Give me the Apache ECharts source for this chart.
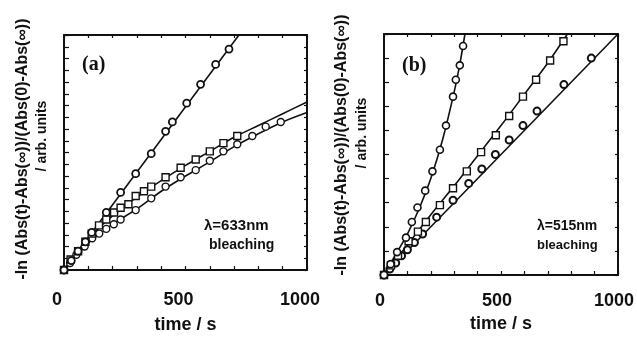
<!DOCTYPE html>
<html>
<head>
<meta charset="utf-8">
<script src="https://cdn.jsdelivr.net/npm/echarts@6/dist/echarts.min.js"></script>
<style>html,body{margin:0;padding:0;background:#fff;}#c{width:637px;height:339px;}</style>
</head>
<body>
<div id="c"></div>
<script>
// ---- Panel (a): lambda = 633 nm ----
var aSteepT = [0, 30, 58, 88, 114, 174, 233, 295, 359, 418, 446, 505, 562, 624, 679];
var aSteepY = [0, 0.8, 1.6, 2.4, 3.2, 4.9, 6.6, 8.2, 9.9, 11.8, 12.6, 14.2, 15.8, 17.5, 18.8];
var aSteepFitT = [0, 720];
var aSteepFitY = [0, 20];
var aSquareT = [0, 27, 58, 88, 114, 144, 174, 206, 233, 265, 295, 329, 359, 418, 480, 542, 600, 656, 713];
var aSquareY = [0, 0.9, 1.6, 2.4, 3.1, 3.8, 4.3, 4.9, 5.3, 5.6, 6.3, 6.7, 7.1, 7.9, 8.7, 9.4, 10.1, 10.8, 11.4];
var aSquareFitT = [0, 50, 100, 150, 200, 300, 400, 500, 600, 700, 800, 900, 1000];
var aSquareFitY = [0, 1.4, 2.7, 3.7, 4.6, 6.2, 7.6, 8.9, 10.1, 11.3, 12.3, 13.3, 14.3];
var aLowT = [0, 25, 51, 85, 116, 145, 174, 205, 233, 295, 359, 418, 480, 542, 600, 656, 713, 775, 830, 892];
var aLowY = [0, 0.6, 1.3, 2.0, 2.7, 3.1, 3.5, 3.9, 4.3, 5.1, 6.1, 7.1, 7.9, 8.5, 9.3, 10.1, 10.7, 11.4, 12.2, 12.6];
var aLowFitT = [0, 50, 100, 150, 200, 300, 400, 500, 600, 700, 800, 900, 1000];
var aLowFitY = [0, 1.2, 2.3, 3.1, 3.9, 5.2, 6.7, 8.0, 9.2, 10.5, 11.6, 12.6, 13.4];

// ---- Panel (b): lambda = 515 nm ----
var bSteepT = [0, 28, 56, 94, 119, 143, 176, 207, 239, 265, 295, 307, 324, 338];
var bSteepY = [0, 0.45, 0.95, 1.55, 2.2, 2.8, 3.5, 4.3, 5.2, 6.2, 7.4, 8.1, 8.7, 9.5];
var bSteepFitT = [0, 50, 100, 150, 200, 250, 300, 325, 346];
var bSteepFitY = [0, 0.85, 1.7, 2.75, 4.0, 5.6, 7.6, 8.8, 10];
var bSquareT = [0, 30, 60, 105, 145, 179, 239, 295, 354, 415, 478, 535, 594, 650, 710, 767];
var bSquareY = [0, 0.4, 0.8, 1.4, 1.8, 2.2, 2.9, 3.6, 4.3, 5.1, 5.8, 6.6, 7.4, 8.1, 8.9, 9.7];
var bSquareFitT = [0, 100, 200, 300, 400, 500, 600, 700, 784];
var bSquareFitY = [0, 1.25, 2.5, 3.7, 4.95, 6.2, 7.5, 8.8, 10];
var bLowT = [0, 25, 50, 75, 100, 130, 165, 225, 295, 362, 418, 476, 535, 594, 654, 769, 886];
var bLowY = [0, 0.25, 0.5, 0.8, 1.05, 1.35, 1.7, 2.4, 3.1, 3.8, 4.4, 5.0, 5.6, 6.2, 6.8, 7.9, 9.0];
var bLowFitT = [0, 1000];
var bLowFitY = [0, 10];

var xTickLabels = [0, 500, 1000];
var xName = 'time / s';
var yName1 = '-ln (Abs(t)-Abs(\u221e))/(Abs(0)-Abs(\u221e))';
var yName2 = '/ arb. units';

function pairs(t, y) { return t.map(function (v, i) { return [v, y[i]]; }); }

var FONT = 'Liberation Sans, Arial, sans-serif';
var INK = '#111';

function xAx(grid, pos, labels, nameGap, margin, padR) {
  return {
    type: 'value', gridIndex: grid, position: pos, min: 0, max: 1000, interval: 100,
    axisLine: { show: true, onZero: false, lineStyle: { color: INK, width: 2 } },
    axisTick: { show: true, inside: true, length: pos === 'bottom' ? 4 : 3, lineStyle: { color: INK, width: 1.2 } },
    axisLabel: labels ? {
      show: true, margin: margin, color: INK, fontFamily: FONT, fontWeight: 'bold', fontSize: 18,
      padding: [0, padR, 0, 0],
      showMinLabel: true, showMaxLabel: true,
      formatter: function (v) { return xTickLabels.indexOf(v) >= 0 ? String(v) : ''; }
    } : { show: false },
    splitLine: { show: false },
    name: labels ? xName : '', nameLocation: 'middle', nameGap: nameGap,
    nameTextStyle: { color: INK, fontFamily: FONT, fontWeight: 'bold', fontSize: 18 }
  };
}
function yAx(grid, pos, max) {
  return {
    type: 'value', gridIndex: grid, position: pos, min: 0, max: max, interval: 1,
    axisLine: { show: true, onZero: false, lineStyle: { color: INK, width: 2 } },
    axisTick: { show: true, inside: true, length: pos === 'left' ? 5 : 3, lineStyle: { color: INK, width: 1.2 } },
    axisLabel: { show: false },
    splitLine: { show: false }
  };
}
function fit(xi, yi, data) {
  return { type: 'line', xAxisIndex: xi, yAxisIndex: yi, data: data, smooth: 0.3, showSymbol: false, symbol: 'none',
    lineStyle: { color: INK, width: 1.6 }, z: 2, silent: true, animation: false };
}
function pts(xi, yi, data, sym, border) {
  return { type: 'scatter', xAxisIndex: xi, yAxisIndex: yi, data: data, symbol: sym, symbolSize: 7,
    itemStyle: { color: '#fff', borderColor: INK, borderWidth: border || 1.4, opacity: 1 }, z: 3, animation: false };
}

var chart = echarts.init(document.getElementById('c'), null, { renderer: 'canvas' });
chart.setOption({
  backgroundColor: '#fff',
  animation: false,
  grid: [
    { left: 64, right: 330, top: 35, bottom: 60 },
    { left: 384, right: 15, top: 34, bottom: 64 }
  ],
  xAxis: [
    xAx(0, 'bottom', true, 46, 21, 14),
    xAx(0, 'top', false, 0, 0, 0),
    xAx(1, 'bottom', true, 35, 17, 8),
    xAx(1, 'top', false, 0, 0, 0)
  ],
  yAxis: [
    yAx(0, 'left', 20), yAx(0, 'right', 20),
    yAx(1, 'left', 10), yAx(1, 'right', 10)
  ],
  series: [
    fit(0, 0, pairs(aSteepFitT, aSteepFitY)),
    fit(0, 0, pairs(aSquareFitT, aSquareFitY)),
    fit(0, 0, pairs(aLowFitT, aLowFitY)),
    pts(0, 0, pairs(aLowT, aLowY), 'circle'),
    pts(0, 0, pairs(aSquareT, aSquareY), 'rect'),
    pts(0, 0, pairs(aSteepT, aSteepY), 'circle', 1.8),
    fit(2, 2, pairs(bSteepFitT, bSteepFitY)),
    fit(2, 2, pairs(bSquareFitT, bSquareFitY)),
    fit(2, 2, pairs(bLowFitT, bLowFitY)),
    pts(2, 2, pairs(bLowT, bLowY), 'circle', 2),
    pts(2, 2, pairs(bSquareT, bSquareY), 'rect'),
    pts(2, 2, pairs(bSteepT, bSteepY), 'circle', 1.6)
  ],
  graphic: [
    { type: 'text', x: 23, y: 149, rotation: Math.PI / 2, style: { text: yName1, fill: INK, font: 'bold 16px ' + FONT, textAlign: 'center', textVerticalAlign: 'middle' } },
    { type: 'text', x: 42, y: 136, rotation: Math.PI / 2, style: { text: yName2, fill: INK, font: 'bold 14px ' + FONT, textAlign: 'center', textVerticalAlign: 'middle' } },
    { type: 'text', x: 342, y: 145, rotation: Math.PI / 2, style: { text: yName1, fill: INK, font: 'bold 16px ' + FONT, textAlign: 'center', textVerticalAlign: 'middle' } },
    { type: 'text', x: 362, y: 133, rotation: Math.PI / 2, style: { text: yName2, fill: INK, font: 'bold 14px ' + FONT, textAlign: 'center', textVerticalAlign: 'middle' } },
    { type: 'text', x: 82, y: 65, style: { text: '(a)', fill: INK, font: 'bold 20px Liberation Serif, serif', textAlign: 'left', textVerticalAlign: 'middle' } },
    { type: 'text', x: 402, y: 66, style: { text: '(b)', fill: INK, font: 'bold 20px Liberation Serif, serif', textAlign: 'left', textVerticalAlign: 'middle' } },
    { type: 'text', x: 204, y: 226, style: { text: '\u03bb=633nm', fill: INK, font: 'bold 15px ' + FONT, textAlign: 'left', textVerticalAlign: 'middle' } },
    { type: 'text', x: 209, y: 245, style: { text: 'bleaching', fill: INK, font: 'bold 14px ' + FONT, textAlign: 'left', textVerticalAlign: 'middle' } },
    { type: 'text', x: 537, y: 226, style: { text: '\u03bb=515nm', fill: INK, font: 'bold 14px ' + FONT, textAlign: 'left', textVerticalAlign: 'middle' } },
    { type: 'text', x: 537, y: 245, style: { text: 'bleaching', fill: INK, font: 'bold 13px ' + FONT, textAlign: 'left', textVerticalAlign: 'middle' } }
  ]
});
</script>
</body>
</html>
